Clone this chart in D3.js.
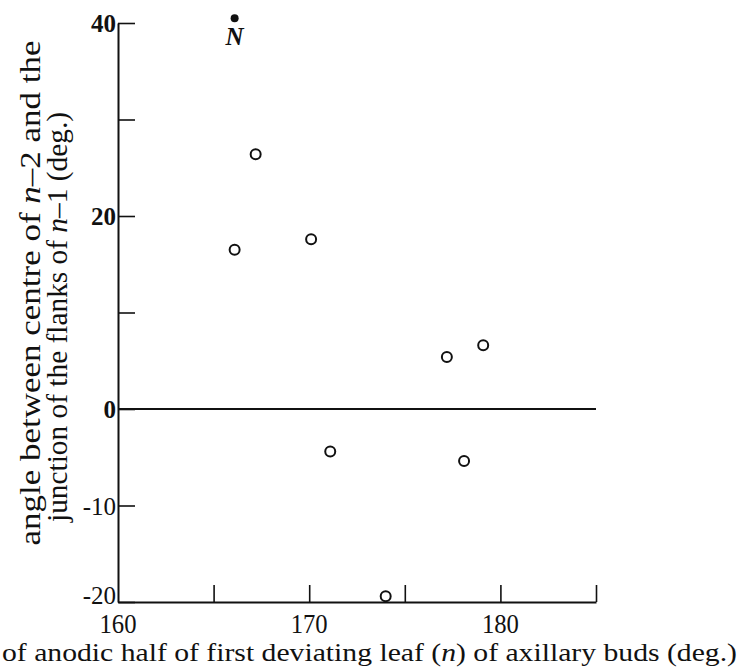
<!DOCTYPE html>
<html><head><meta charset="utf-8">
<script src="https://cdn.jsdelivr.net/npm/d3@7"></script>
<style>
html,body{margin:0;padding:0;background:#fff;}
svg{display:block;}
</style></head>
<body>
<svg id="chart" width="752" height="670"></svg>
<script>
// Data
const xValues = [166.1, 167.2, 170.1, 171.1, 174.0, 177.2, 178.1, 179.1];
const yValues = [16.5, 26.4, 17.6, -4.4, -19.4, 5.4, -5.4, 6.6];
const nPointX = [166.1];
const nPointY = [40.5];
const nLabel = ["N"];
const xTicks = [165, 170, 175, 180, 185];
const xTickLabels = [160, 170, 180];
const yTicks = [40, 30, 20, 10, 0, -10, -20];
const yTickLabels = [40, 20, 0, -10, -20];
const xDomain = [160, 185];
const yDomain = [-20, 40];

const FONT = "'Liberation Serif', 'Times New Roman', 'DejaVu Serif', serif";
const svg = d3.select("#chart");
const x = d3.scaleLinear().domain(xDomain).range([118, 596]);
const y = d3.scaleLinear().domain(yDomain).range([602, 23]);
const ink = "#111";

// Y axis (ticks pointing inward)
const yAxis = d3.axisLeft(y).tickValues(yTicks).tickSizeInner(-17).tickSizeOuter(0).tickPadding(2)
  .tickFormat(d => yTickLabels.includes(d) ? String(d) : "");
const gy = svg.append("g").attr("transform", `translate(${x(160)},0)`).call(yAxis);
gy.attr("font-family", FONT);
gy.select(".domain").attr("stroke", ink).attr("stroke-width", 2);
gy.selectAll(".tick line").attr("stroke", ink).attr("stroke-width", 1.6);
gy.selectAll(".tick text").attr("font-size", 25).attr("font-weight", d => d >= 0 ? "bold" : "normal")
  .attr("fill", ink).attr("dy", d => d === -20 ? "0.05em" : "0.34em");

// X axis (ticks pointing inward)
const xAxis = d3.axisBottom(x).tickValues(xTicks).tickSizeInner(-17).tickSizeOuter(0).tickFormat("");
const gx = svg.append("g").attr("transform", `translate(0,${y(-20)})`).call(xAxis);
gx.select(".domain").attr("stroke", ink).attr("stroke-width", 2);
gx.selectAll(".tick line").attr("stroke", ink).attr("stroke-width", 1.6);

// X tick labels
svg.append("g").selectAll("text").data(xTickLabels).join("text")
  .attr("x", d => x(d)).attr("y", y(-20) + 31)
  .attr("text-anchor", "middle").attr("font-size", 28)
  .attr("textLength", 37).attr("lengthAdjust", "spacingAndGlyphs")
  .text(d => d);

// Zero line
svg.append("line").attr("x1", x(160)).attr("x2", x(185)).attr("y1", y(0)).attr("y2", y(0))
  .attr("stroke", ink).attr("stroke-width", 2);

// Open circles
svg.append("g").selectAll("circle").data(xValues.map((v, i) => [v, yValues[i]])).join("circle")
  .attr("cx", d => x(d[0])).attr("cy", d => y(d[1])).attr("r", 5)
  .attr("fill", "none").attr("stroke", ink).attr("stroke-width", 2);

// N point
svg.append("g").selectAll("circle").data(nPointX.map((v, i) => [v, nPointY[i]])).join("circle")
  .attr("cx", d => x(d[0])).attr("cy", d => y(d[1])).attr("r", 4).attr("fill", ink);
svg.append("g").selectAll("text").data(nPointX.map((v, i) => [v, nPointY[i], nLabel[i]])).join("text")
  .attr("x", d => x(d[0])).attr("y", d => y(d[1]) + 27)
  .attr("text-anchor", "middle").attr("font-size", 25).attr("font-style", "italic").attr("font-weight", "bold")
  .text(d => d[2]);

// Y axis label (two lines, rotated)
const yl1 = svg.append("text").attr("transform", "translate(40,293) rotate(-90)")
  .attr("text-anchor", "middle").attr("font-size", 30)
  .attr("textLength", 505).attr("lengthAdjust", "spacingAndGlyphs");
yl1.append("tspan").text("angle between centre of ");
yl1.append("tspan").attr("font-style", "italic").text("n");
yl1.append("tspan").text("–2 and the");
const yl2 = svg.append("text").attr("transform", "translate(67,317) rotate(-90)")
  .attr("text-anchor", "middle").attr("font-size", 30)
  .attr("textLength", 410).attr("lengthAdjust", "spacingAndGlyphs");
yl2.append("tspan").text("junction of the flanks of ");
yl2.append("tspan").attr("font-style", "italic").text("n");
yl2.append("tspan").text("–1 (deg.)");

// X axis label
const xl = svg.append("text").attr("x", 2).attr("y", 661).attr("font-size", 26)
  .attr("textLength", 735).attr("lengthAdjust", "spacingAndGlyphs");
xl.append("tspan").text("of anodic half of first deviating leaf (");
xl.append("tspan").attr("font-style", "italic").text("n");
xl.append("tspan").text(") of axillary buds (deg.)");

svg.selectAll("text").attr("font-family", FONT).attr("fill", ink);
</script>
</body></html>
